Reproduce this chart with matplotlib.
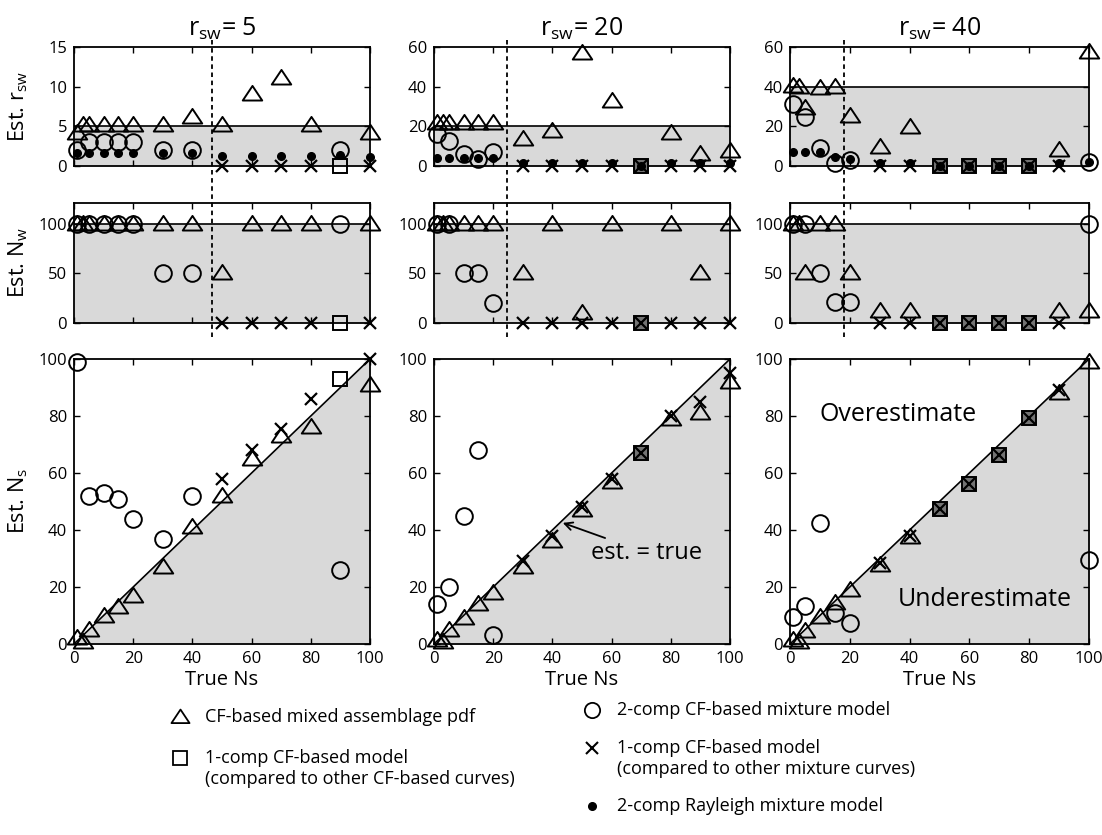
import numpy as np
import matplotlib
matplotlib.use("Agg")
import matplotlib.pyplot as plt
from matplotlib.lines import Line2D
from matplotlib.path import Path
from matplotlib.transforms import blended_transform_factory

plt.rcParams['font.family'] = ['Open Sans', 'DejaVu Sans']
plt.rcParams['mathtext.fontset'] = 'custom'
plt.rcParams['mathtext.rm'] = 'Open Sans'
plt.rcParams['mathtext.it'] = 'Open Sans'

nan = np.nan

# ---------------- data ----------------
true_ns = [1, 3, 5, 10, 15, 20, 30, 40, 50, 60, 70, 80, 90, 100]
true_rsw = [5, 20, 40]
true_nw = 100
split_ns = [46.5, 24.5, 18]   # dashed separator positions

# r_sw = 5
triA_r = [4.2, 5.2, 5.2, 5.2, 5.2, 5.2, 5.2, 6.2, 5.2, 9.1, 11.1, 5.2, nan, 4.2]
circA_r = [2.0, nan, 3.0, 3.0, 3.0, 3.0, 2.0, 2.0, nan, nan, nan, nan, 2.0, nan]
dotA_r = [1.7, nan, 1.6, 1.6, 1.6, 1.6, 1.7, 1.7, 1.3, 1.3, 1.3, 1.3, 1.4, 1.1]
xA_r = [nan, nan, nan, nan, nan, nan, nan, nan, 0, 0, 0, 0, nan, 0]
sqA_r = [nan, nan, nan, nan, nan, nan, nan, nan, nan, nan, nan, nan, 0, nan]

triA_w = [100, 100, 100, 100, 100, 100, 100, 100, 50, 100, 100, 100, nan, 100]
circA_w = [100, nan, 100, 100, 100, 100, 50, 50, nan, nan, nan, nan, 100, nan]
xA_w = [nan, nan, nan, nan, nan, nan, nan, nan, 0, 0, 0, 0, nan, 0]
sqA_w = [nan, nan, nan, nan, nan, nan, nan, nan, nan, nan, nan, nan, 0, nan]

triA_s = [2, 0.8, 5, 10, 13, 17, 27, 41, 52, 65, 73, 76, nan, 91]
circA_s = [99, nan, 52, 53, 51, 44, 37, 52, nan, nan, nan, nan, 26, nan]
xA_s = [nan, nan, nan, nan, nan, nan, nan, nan, 58, 68, 75.5, 86, nan, 100]
sqA_s = [nan, nan, nan, nan, nan, nan, nan, nan, nan, nan, nan, nan, 93, nan]

# r_sw = 20
triB_r = [21.5, 21.5, 21.5, 21.5, 21.5, 21.5, 13.5, 17.5, 57, 33, nan, 16.5, 6, 7.5]
circB_r = [16, nan, 12.7, 6, 3.5, 7.3, nan, nan, nan, nan, nan, nan, nan, nan]
dotB_r = [4.2, nan, 4.2, 4.2, 4.0, 4.2, 1.5, 1.5, 1.5, 1.5, 0, 1.5, 1.5, 1.5]
xB_r = [nan, nan, nan, nan, nan, nan, 0, 0, 0, 0, 0, 0, 0, 0]
sqB_r = [nan, nan, nan, nan, nan, nan, nan, nan, nan, nan, 0, nan, nan, nan]

triB_w = [100, 100, 100, 100, 100, 100, 50, 100, 10, 100, nan, 100, 50, 100]
circB_w = [100, nan, 100, 50, 50, 20, nan, nan, nan, nan, nan, nan, nan, nan]
xB_w = [nan, nan, nan, nan, nan, nan, 0, 0, 0, 0, 0, 0, 0, 0]
sqB_w = [nan, nan, nan, nan, nan, nan, nan, nan, nan, nan, 0, nan, nan, nan]

triB_s = [1.5, 0.8, 5, 9, 14, 18, 27, 36, 47, 57, nan, 79, 81, 92]
circB_s = [14, nan, 20, 45, 68, 3, nan, nan, nan, nan, nan, nan, nan, nan]
xB_s = [nan, nan, nan, nan, nan, nan, 29, 38, 48, 58, 67, 80, 85, 95]
sqB_s = [nan, nan, nan, nan, nan, nan, nan, nan, nan, nan, 67, nan, nan, nan]

# r_sw = 40
triC_r = [40.5, 40, 29, 39.5, 40, 25, 9.5, 19.5, nan, nan, nan, nan, 8, 57.5]
circC_r = [31.5, nan, 24.7, 9.2, 1.7, 2.9, nan, nan, nan, nan, nan, nan, nan, 2]
dotC_r = [7, nan, 7, 7, 4.5, 3.7, 1.5, 1.5, 0, 0, 0, 0, 1.5, 2]
xC_r = [nan, nan, nan, nan, nan, nan, 0, 0, 0, 0, 0, 0, 0, nan]
sqC_r = [nan, nan, nan, nan, nan, nan, nan, nan, 0, 0, 0, 0, nan, nan]

triC_w = [100, 100, 50, 100, 100, 50, 12, 12, nan, nan, nan, nan, 12, 12]
circC_w = [100, nan, 100, 50, 21, 21, nan, nan, nan, nan, nan, nan, nan, 100]
xC_w = [nan, nan, nan, nan, nan, nan, 0, 0, 0, 0, 0, 0, 0, nan]
sqC_w = [nan, nan, nan, nan, nan, nan, nan, nan, 0, 0, 0, 0, nan, nan]

triC_s = [1.5, 0.8, 4.4, 9.4, 14.5, 19, 27.7, 37.4, nan, nan, nan, nan, 88, 99]
circC_s = [9.4, nan, 13.4, 42.3, 11, 7.3, nan, nan, nan, nan, nan, nan, nan, 29.5]
xC_s = [nan, nan, nan, nan, nan, nan, 28.5, 38, 47.3, 56.3, 66.2, 79.4, 89, nan]
sqC_s = [nan, nan, nan, nan, nan, nan, nan, nan, 47.3, 56.3, 66.2, 79.4, nan, nan]

panels = [
    dict(r=(triA_r, circA_r, dotA_r, xA_r, sqA_r), w=(triA_w, circA_w, None, xA_w, sqA_w),
         s=(triA_s, circA_s, None, xA_s, sqA_s)),
    dict(r=(triB_r, circB_r, dotB_r, xB_r, sqB_r), w=(triB_w, circB_w, None, xB_w, sqB_w),
         s=(triB_s, circB_s, None, xB_s, sqB_s)),
    dict(r=(triC_r, circC_r, dotC_r, xC_r, sqC_r), w=(triC_w, circC_w, None, xC_w, sqC_w),
         s=(triC_s, circC_s, None, xC_s, sqC_s)),
]

# ---------------- figure ----------------
W, H = 1102, 835
fig = plt.figure(figsize=(W / 100, H / 100), dpi=100)

shade = '#d9d9d9'
lefts = [74, 434, 790]
widths = [296, 296, 299]
rows = [(47, 166), (203, 323), (359, 644)]  # top, bottom in px

# wide MATLAB-like triangle
TRI = Path([(-1, -0.62), (1, -0.62), (0, 0.88), (-1, -0.62)],
           [Path.MOVETO, Path.LINETO, Path.LINETO, Path.CLOSEPOLY])

MEW = 1.4
tri_kw = dict(marker=TRI, ms=14, mfc='none', mec='black', mew=MEW, ls='none', clip_on=False, zorder=4)
circ_kw = dict(marker='o', ms=12, mfc='none', mec='black', mew=MEW, ls='none', clip_on=False, zorder=5)
x_kw = dict(marker='x', ms=9, mec='black', mew=1.6, ls='none', clip_on=False, zorder=7)
dot_kw = dict(marker='o', ms=5.5, mfc='black', mec='black', ls='none', clip_on=False, zorder=8)
sq_kw = dict(marker='s', ms=9.5, mec='black', mew=MEW, ls='none', clip_on=False, zorder=6)


def ax_at(l, w, top, bot):
    return fig.add_axes([l / W, 1 - bot / H, w / W, (bot - top) / H])


def style(ax):
    ax.tick_params(direction='in', top=True, right=True, length=4, width=1,
                   labelsize=12, pad=5)
    for s in ax.spines.values():
        s.set_linewidth(1.3)
    ax.set_xlim(0, 100)
    ax.set_xticks(np.arange(0, 101, 20))


def draw_series(ax, series):
    tri, circ, dot, xx, sq = series
    xs = np.array(true_ns, float)
    sq = np.array(sq, float)
    xx_a = np.array(xx, float)
    ax.plot(xs, tri, **tri_kw)
    ax.plot(xs, circ, **circ_kw)
    # squares that coincide with an X look filled
    filled = ~np.isnan(sq) & ~np.isnan(xx_a) & np.isclose(np.nan_to_num(sq), np.nan_to_num(xx_a))
    ax.plot(xs[filled], sq[filled], mfc='0.45', **sq_kw)
    ax.plot(xs[~filled], sq[~filled], mfc='none', **sq_kw)
    ax.plot(xs, xx_a, **x_kw)
    if dot is not None:
        ax.plot(xs, dot, **dot_kw)


for i, p in enumerate(panels):
    l, w = lefts[i], widths[i]
    rsw = true_rsw[i]

    # row 1: est r_sw
    ax1 = ax_at(l, w, *rows[0])
    style(ax1)
    ymax1 = 15 if rsw == 5 else 60
    ax1.set_ylim(0, ymax1)
    ax1.set_yticks(np.arange(0, ymax1 + 1, 5 if rsw == 5 else 20))
    ax1.axhspan(0, rsw, color=shade, zorder=0, lw=0)
    ax1.axhline(rsw, color='black', lw=1.2, zorder=1)
    ax1.set_xticklabels([])
    draw_series(ax1, p['r'])
    ax1.set_title(r'r$_{\mathregular{sw}}$= %d' % rsw, fontsize=18, pad=8)

    # row 2: est Nw
    ax2 = ax_at(l, w, *rows[1])
    style(ax2)
    ax2.set_ylim(0, 121)
    ax2.set_yticks([0, 50, 100])
    ax2.axhspan(0, true_nw, color=shade, zorder=0, lw=0)
    ax2.axhline(true_nw, color='black', lw=1.2, zorder=1)
    ax2.set_xticklabels([])
    draw_series(ax2, p['w'])

    # row 3: est Ns vs true Ns
    ax3 = ax_at(l, w, *rows[2])
    style(ax3)
    ax3.set_ylim(0, 100)
    ax3.set_yticks(np.arange(0, 101, 20))
    ax3.fill_between([0, 100], [0, 0], [0, 100], color=shade, zorder=0, lw=0)
    ax3.plot([0, 100], [0, 100], color='black', lw=1.2, zorder=1)
    draw_series(ax3, p['s'])
    ax3.set_xlabel('True Ns', fontsize=14.5, labelpad=2)

    if i == 0:
        for ax, lab in [(ax1, r'Est. r$_{\mathregular{sw}}$'), (ax2, r'Est. N$_{\mathregular{w}}$'),
                        (ax3, r'Est. N$_{\mathregular{s}}$')]:
            ax.set_ylabel(lab, fontsize=15.5)
            ax.yaxis.set_label_coords(-0.15, 0.5)
    if i == 1:
        ax3.annotate('est. = true', xy=(43.5, 42.5), xytext=(53, 32),
                     fontsize=17, ha='left', va='center',
                     arrowprops=dict(arrowstyle='->', lw=1.3, color='black',
                                     shrinkA=0, shrinkB=0, mutation_scale=14),
                     zorder=9)
    if i == 2:
        ax3.text(36, 80.5, 'Overestimate', fontsize=18, ha='center', va='center')
        ax3.text(65, 15.5, 'Underestimate', fontsize=18, ha='center', va='center')

    # dashed separator spanning top two rows
    tr = blended_transform_factory(ax1.transData, fig.transFigure)
    fig.add_artist(Line2D([split_ns[i], split_ns[i]], [1 - 40 / H, 1 - 337 / H],
                          transform=tr, color='black', lw=1.3, ls=(0, (2.5, 2)), zorder=10))

# ---------------- legend (manual layout) ----------------
lg = fig.add_axes([0, 0, 1, 1], zorder=-1)
lg.set_xlim(0, W)
lg.set_ylim(H, 0)
lg.axis('off')
leg_items = [
    (180, 717, dict(marker=TRI, ms=13, mfc='none', mec='black', mew=1.3), ['CF-based mixed assemblage pdf']),
    (180, 758, dict(marker='s', ms=10, mfc='none', mec='black', mew=1.3),
     ['1-comp CF-based model', '(compared to other CF-based curves)']),
    (592, 710, dict(marker='o', ms=11, mfc='none', mec='black', mew=1.3), ['2-comp CF-based mixture model']),
    (592, 748, dict(marker='x', ms=9, mec='black', mew=1.5),
     ['1-comp CF-based model', '(compared to other mixture curves)']),
    (592, 806, dict(marker='o', ms=5.5, mfc='black', mec='black'), ['2-comp Rayleigh mixture model']),
]
for mx, my, mk, lines in leg_items:
    lg.plot([mx], [my], ls='none', **mk)
    for k, t in enumerate(lines):
        lg.text(mx + 25, my + 21.5 * k, t, fontsize=13, ha='left', va='center')

fig.savefig('out.png', dpi=100)
